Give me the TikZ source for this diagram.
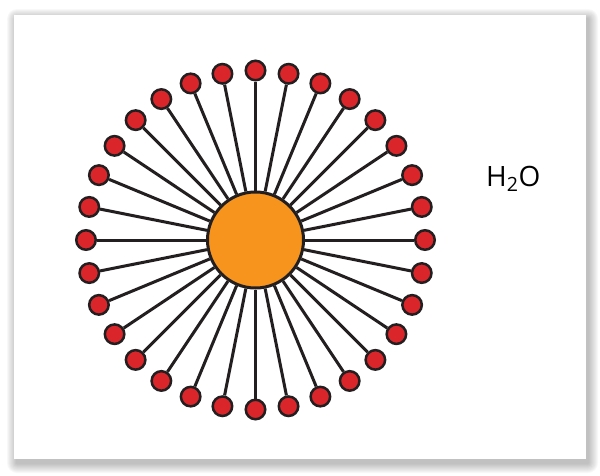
\documentclass[tikz,border=0pt]{standalone}
\usepackage{fontspec}
\newfontfamily\labelfont{Open Sans}
\usetikzlibrary{calc}
\definecolor{CoreClr}{RGB}{247,148,29}
\definecolor{HeadClr}{RGB}{218,37,42}
\definecolor{StickClr}{RGB}{35,31,32}

\begin{document}
\begin{tikzpicture}[x=1pt,y=-1pt,
  head/.style={circle,draw=StickClr,fill=HeadClr,line width=2.5pt,minimum size=19.5pt,inner sep=0pt},
  core/.style={circle,draw=StickClr,fill=CoreClr,line width=3pt,minimum size=96pt,inner sep=0pt},
  stick/.style={draw=StickClr,line width=3pt}]
\useasboundingbox (0,0) rectangle (600,475);

\foreach \i in {1,...,10}
  \fill[black,opacity=0.028,rounded corners=\i pt] (17-\i,19-\i) rectangle (588+\i,463+\i);
\fill[white] (14,15) rectangle (586,459);

\coordinate (O) at (255.5,240);
\node[core] (M) at (O) {};
\foreach \k in {0,...,31}
  \node[head] (H\k) at ($(O)+(\k*11.25:169.5)$) {};
\foreach \k in {0,...,31}
  \draw[stick] (M) -- (H\k);

\node[anchor=base west,inner sep=0pt,font=\fontsize{28}{30}\labelfont] (water) at (486,186) {H\textsubscript{2}O};

\end{tikzpicture}
\end{document}
